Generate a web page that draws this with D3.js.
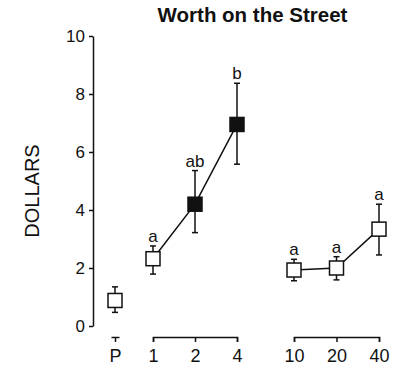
<!DOCTYPE html>
<html>
<head>
<meta charset="utf-8">
<script src="https://cdn.jsdelivr.net/npm/d3@7"></script>
<style>
  html, body { margin: 0; padding: 0; background: #fff; }
  svg { display: block; }
  text { font-family: "Liberation Sans", Arial, Helvetica, sans-serif; fill: #111; }
</style>
</head>
<body>
<svg id="chart" width="396" height="371"></svg>
<script>
// ---- data ----
const categories = ["P", "1", "2", "4", "10", "20", "40"];
const groupOf    = [0, 1, 1, 1, 2, 2, 2];
const means      = [0.88, 2.32, 4.20, 6.95, 1.93, 2.00, 3.34];
const errUpper   = [1.35, 2.76, 5.36, 8.37, 2.30, 2.39, 4.20];
const errLower   = [0.47, 1.79, 3.22, 5.58, 1.56, 1.59, 2.45];
const letters    = ["", "a", "ab", "b", "a", "a", "a"];
const filled     = [false, false, true, true, false, false, false];
const yTicks     = [0, 2, 4, 6, 8, 10];
const title      = "Worth on the Street";
const yLabel     = "DOLLARS";

// ---- layout ----
const ink = "#111";
const svg = d3.select("#chart");
const y = d3.scaleLinear().domain([0, 10]).range([326, 36]);
const axisX = 93, axisY = 337;
const groupRanges = [[111, 119], [153, 237], [294, 379]];
const groupScales = groupRanges.map((r, g) =>
  d3.scalePoint()
    .domain(categories.filter((c, i) => groupOf[i] === g))
    .range(r)
);
const xOf = i => groupScales[groupOf[i]](categories[i]);

// title
svg.append("text")
  .attr("x", 252.5).attr("y", 21.5)
  .attr("text-anchor", "middle")
  .style("font-size", "20.5px").style("font-weight", "bold")
  .text(title);

// y label
svg.append("text")
  .attr("transform", "translate(39,191) rotate(-90)")
  .attr("text-anchor", "middle")
  .style("font-size", "20px")
  .text(yLabel);

// y axis
const yAxis = svg.append("g")
  .attr("transform", `translate(${axisX},0)`)
  .call(d3.axisLeft(y).tickValues(yTicks).tickFormat(d3.format("d"))
    .tickSizeInner(4).tickSizeOuter(0).tickPadding(4));
yAxis.selectAll("path, line").attr("stroke", ink).attr("stroke-width", 1.5);
yAxis.selectAll("text").style("font-size", "17px").attr("fill", ink).style("font-family", "Liberation Sans, Arial, sans-serif");

// x axes (one bracket per group)
groupScales.forEach((sc, g) => {
  const ax = svg.append("g")
    .attr("transform", `translate(0,${axisY})`)
    .call(d3.axisBottom(sc).tickSizeInner(5).tickSizeOuter(g === 0 ? 0 : 5).tickPadding(7));
  ax.selectAll("path, line").attr("stroke", ink).attr("stroke-width", 1.5);
  ax.selectAll("text").style("font-size", "18px").attr("fill", ink).style("font-family", "Liberation Sans, Arial, sans-serif");
});

const idx = d3.range(categories.length);

// connecting lines
[1, 2].forEach(g => {
  const pts = idx.filter(i => groupOf[i] === g);
  svg.append("path")
    .datum(pts)
    .attr("fill", "none").attr("stroke", ink).attr("stroke-width", 1.5)
    .attr("d", d3.line().x(i => xOf(i)).y(i => y(means[i])));
});

// error bars
const capW = 3;
const eb = svg.append("g").attr("stroke", ink).attr("stroke-width", 1.5);
idx.forEach(i => {
  const cx = xOf(i);
  eb.append("line").attr("x1", cx).attr("x2", cx).attr("y1", y(errUpper[i])).attr("y2", y(errLower[i]));
  eb.append("line").attr("x1", cx - capW).attr("x2", cx + capW).attr("y1", y(errUpper[i])).attr("y2", y(errUpper[i]));
  eb.append("line").attr("x1", cx - capW).attr("x2", cx + capW).attr("y1", y(errLower[i])).attr("y2", y(errLower[i]));
});

// markers
const sz = 14;
svg.append("g").selectAll("rect").data(idx).join("rect")
  .attr("x", i => xOf(i) - sz / 2)
  .attr("y", i => y(means[i]) - sz / 2)
  .attr("width", sz).attr("height", sz)
  .attr("fill", i => filled[i] ? ink : "#fff")
  .attr("stroke", ink).attr("stroke-width", 1.5);

// significance letters
svg.append("g").selectAll("text").data(idx.filter(i => letters[i])).join("text")
  .attr("x", i => xOf(i))
  .attr("y", i => y(errUpper[i]) - 4)
  .attr("text-anchor", "middle")
  .style("font-size", "17px")
  .text(i => letters[i]);
</script>
</body>
</html>
